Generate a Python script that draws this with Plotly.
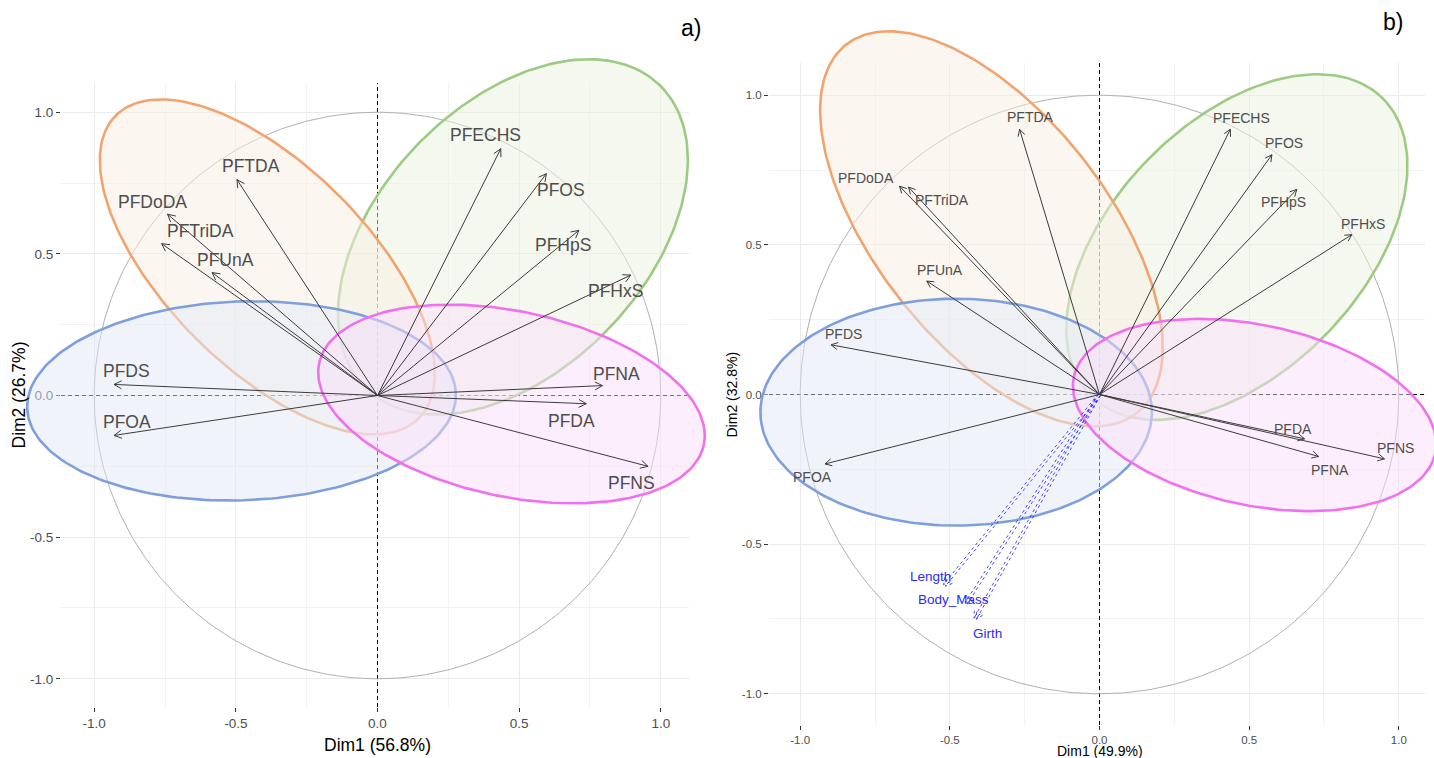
import numpy as np
import plotly.graph_objects as go

# ---------------- data ----------------
# Panel a: variable coordinates on Dim1 / Dim2
vars_a = ["PFTDA", "PFDoDA", "PFTriDA", "PFUnA", "PFDS", "PFOA", "PFECHS",
          "PFOS", "PFHpS", "PFHxS", "PFNA", "PFDA", "PFNS"]
dim1_a = [-0.496, -0.741, -0.762, -0.584, -0.930, -0.930, 0.435,
          0.596, 0.711, 0.894, 0.794, 0.737, 0.955]
dim2_a = [0.762, 0.640, 0.536, 0.434, 0.039, -0.141, 0.871,
          0.783, 0.583, 0.425, 0.035, -0.029, -0.250]

# Panel b: variable coordinates on Dim1 / Dim2
vars_b = ["PFTDA", "PFDoDA", "PFTriDA", "PFUnA", "PFDS", "PFOA", "PFECHS",
          "PFOS", "PFHpS", "PFHxS", "PFDA", "PFNA", "PFNS"]
dim1_b = [-0.267, -0.668, -0.638, -0.577, -0.897, -0.917, 0.437,
          0.576, 0.659, 0.843, 0.685, 0.732, 0.952]
dim2_b = [0.886, 0.696, 0.693, 0.379, 0.166, -0.232, 0.886,
          0.801, 0.685, 0.534, -0.148, -0.207, -0.215]

# Panel b: supplementary quantitative variables
sup_vars_b = ["Length", "Body_Mass", "Girth"]
sup_dim1_b = [-0.518, -0.445, -0.415]
sup_dim2_b = [-0.638, -0.697, -0.749]

# Group ellipses (drawing order: green, orange, blue, pink)
ell_names = ["green", "orange", "blue", "pink"]
ell_a_cx = [0.478, -0.389, -0.480, 0.473]
ell_a_cy = [0.560, 0.454, -0.019, -0.030]
ell_a_ra = [0.745, 0.756, 0.757, 0.694]
ell_a_rb = [0.4685, 0.357, 0.351, 0.327]
ell_a_ang = [46.0, -45.0, 2.0, -12.0]

ell_b_cx = [0.459, -0.361, -0.479, 0.518]
ell_b_cy = [0.4926, 0.5535, -0.059, -0.0686]
ell_b_ra = [0.696, 0.784, 0.654, 0.617]
ell_b_rb = [0.417, 0.3856, 0.379, 0.301]
ell_b_ang = [45.8, -51.7, 0.0, -12.0]

tick_vals = [-1.0, -0.5, 0.0, 0.5, 1.0]
tick_text = ["-1.0", "-0.5", "0.0", "0.5", "1.0"]

# ---------------- styling ----------------
W, H = 1434, 758
FONT = "Liberation Sans, Arial, sans-serif"
ELL_LINE = {"green": "#9DCB84", "orange": "#F2A470", "blue": "#7F9FDC", "pink": "#F170EE"}
ELL_FILL = {"green": "rgba(233,241,221,0.5)", "orange": "rgba(247,237,225,0.5)",
            "blue": "rgba(225,233,245,0.5)", "pink": "rgba(249,221,249,0.5)"}
ARROW_COL = "#3b3b3b"
LABEL_COL = "#4d4d4d"

# label offsets from arrow tips, in pixels (dx right, dy up)
nudge_a = {"PFTDA": (14, 14), "PFDoDA": (-15, 12), "PFTriDA": (39, 13), "PFUnA": (13, 13),
           "PFDS": (12, 13), "PFOA": (13, 13), "PFECHS": (-15, 14), "PFOS": (15, -16),
           "PFHpS": (-16, -15), "PFHxS": (-15, -16), "PFNA": (14, 12), "PFDA": (-15, -17),
           "PFNS": (-17, -17)}
nudge_b = {"PFTDA": (11, 12), "PFDoDA": (-34, 8), "PFTriDA": (33, -13), "PFUnA": (13, 11),
           "PFDS": (12, 11), "PFOA": (-13, -13), "PFECHS": (11, 11), "PFOS": (12, 12),
           "PFHpS": (-13, -13), "PFHxS": (11, 11), "PFDA": (-12, 10), "PFNA": (11, -14),
           "PFNS": (11, 11), "Length": (-14, 9), "Body_Mass": (-13, 4), "Girth": (12, -15)}

# panel geometry in page pixels: origin, px per unit, plotting box
panel_a = dict(ox=377.5, oy=395.5, s=283.3, box=(61, 688.5, 83, 707), wide=(0.0, 0.5))
panel_b = dict(ox=1099.5, oy=394.5, s=299.3, box=(769, 1425, 63, 725), wide=(0.5, 1.0))


def x_domain_range(p, x0px, x1px):
    return [x0px / W, x1px / W], [(x0px - p["ox"]) / p["s"], (x1px - p["ox"]) / p["s"]]


def y_domain_range(p, ytop, ybot):
    return [1 - ybot / H, 1 - ytop / H], [(p["oy"] - ybot) / p["s"], (p["oy"] - ytop) / p["s"]]


def ellipse(cx, cy, ra, rb, ang):
    t = np.linspace(0, 2 * np.pi, 240)
    th = np.deg2rad(ang)
    x = cx + ra * np.cos(th) * np.cos(t) - rb * np.sin(th) * np.sin(t)
    y = cy + ra * np.sin(th) * np.cos(t) + rb * np.cos(th) * np.sin(t)
    return x, y


def arrows(xs, ys, head, offset=0.0, spread=np.deg2rad(28)):
    px, py = [], []
    for x, y in zip(xs, ys):
        phi = np.arctan2(y, x)
        nx, ny = -np.sin(phi) * offset, np.cos(phi) * offset
        tx, ty = x + nx, y + ny
        px += [nx, tx, None]
        py += [ny, ty, None]
        px += [tx - head * np.cos(phi + spread), tx, tx - head * np.cos(phi - spread), None]
        py += [ty - head * np.sin(phi + spread), ty, ty - head * np.sin(phi - spread), None]
    return px, py


fig = go.Figure()
layout_axes = {}
annotations = []


def build_panel(p, vis_idx, wide_idx, names, d1, d2, ecx, ecy, era, erb, eang,
                nudge, lab_size, tick_size, title_size, xtitle, ytitle, xtitle_y, ytitle_x,
                head, sup=None):
    x0, x1, yt, yb = p["box"]
    xd, xr = x_domain_range(p, x0, x1)
    yd, yr = y_domain_range(p, yt, yb)
    wxd, wxr = x_domain_range(p, p["wide"][0] * W, p["wide"][1] * W)
    wyd, wyr = y_domain_range(p, 0, H)

    vx, vy = ("x" if vis_idx == 1 else f"x{vis_idx}"), ("y" if vis_idx == 1 else f"y{vis_idx}")
    cx_, cy_ = f"x{wide_idx}", f"y{wide_idx}"

    common = dict(tickmode="array", tickvals=tick_vals, ticktext=tick_text,
                  ticks="outside", ticklen=4, tickwidth=1, tickcolor="#333333",
                  tickfont=dict(family=FONT, size=tick_size, color="#4d4d4d"),
                  showgrid=True, gridcolor="#EBEBEB", gridwidth=1,
                  minor=dict(tickmode="linear", tick0=0, dtick=0.25, showgrid=True,
                             gridcolor="#F2F2F2", gridwidth=0.7),
                  zeroline=False, showline=False, fixedrange=True)
    layout_axes[f"xaxis{'' if vis_idx == 1 else vis_idx}"] = dict(
        domain=xd, range=xr, anchor=vy, **common)
    layout_axes[f"yaxis{'' if vis_idx == 1 else vis_idx}"] = dict(
        domain=yd, range=yr, anchor=vx, **common)
    layout_axes[f"xaxis{wide_idx}"] = dict(domain=wxd, range=wxr, anchor=cy_, visible=False, fixedrange=True)
    layout_axes[f"yaxis{wide_idx}"] = dict(domain=wyd, range=wyr, anchor=cx_, visible=False, fixedrange=True)

    # empty trace so the gridded frame (ticks, grid) is rendered
    fig.add_trace(go.Scatter(x=[], y=[], xaxis=vx, yaxis=vy, mode="lines",
                             hoverinfo="skip", showlegend=False))

    # dashed reference lines through the origin, spanning the plotting box
    fig.add_trace(go.Scatter(x=[xr[0], xr[1], None, 0, 0], y=[0, 0, None, yr[0], yr[1]],
                             mode="lines", xaxis=cx_, yaxis=cy_,
                             line=dict(color="#000000", width=1, dash="4px,3px"),
                             hoverinfo="skip", showlegend=False))

    # correlation circle
    t = np.linspace(0, 2 * np.pi, 361)
    fig.add_trace(go.Scatter(x=np.cos(t), y=np.sin(t), mode="lines", xaxis=cx_, yaxis=cy_,
                             line=dict(color="#B0B0B0", width=1), hoverinfo="skip", showlegend=False))

    # group ellipses
    for name, a, b, c, d, e in zip(ell_names, ecx, ecy, era, erb, eang):
        ex, ey = ellipse(a, b, c, d, e)
        fig.add_trace(go.Scatter(x=ex, y=ey, mode="lines", fill="toself",
                                 fillcolor=ELL_FILL[name], xaxis=cx_, yaxis=cy_,
                                 line=dict(color=ELL_LINE[name], width=2.6),
                                 hoverinfo="skip", showlegend=False))

    # variable arrows
    ax_, ay_ = arrows(d1, d2, head)
    fig.add_trace(go.Scatter(x=ax_, y=ay_, mode="lines", xaxis=cx_, yaxis=cy_,
                             line=dict(color=ARROW_COL, width=1), hoverinfo="skip", showlegend=False))
    for n, x, y in zip(names, d1, d2):
        dx, dy = nudge[n]
        annotations.append(dict(x=x, y=y, xref=cx_, yref=cy_, text=n, showarrow=False,
                                xshift=dx, yshift=dy, xanchor="center", yanchor="middle",
                                font=dict(family=FONT, size=lab_size, color=LABEL_COL)))

    # supplementary variables (dashed blue)
    if sup is not None:
        snames, s1, s2 = sup
        off = 1.3 / p["s"]
        for o in (-off, off):
            sx, sy = arrows(s1, s2, head, offset=o)
            fig.add_trace(go.Scatter(x=sx, y=sy, mode="lines", xaxis=cx_, yaxis=cy_,
                                     line=dict(color="rgba(40,40,255,0.85)", width=1, dash="3px,3px"),
                                     hoverinfo="skip", showlegend=False))
        for n, x, y in zip(snames, s1, s2):
            dx, dy = nudge[n]
            annotations.append(dict(x=x, y=y, xref=cx_, yref=cy_, text=n, showarrow=False,
                                    xshift=dx, yshift=dy, xanchor="center", yanchor="middle",
                                    font=dict(family=FONT, size=lab_size - 0.5, color="#2a2aff")))

    # axis titles
    annotations.append(dict(x=p["ox"] / W, y=1 - xtitle_y / H, xref="paper", yref="paper",
                            text=xtitle, showarrow=False, xanchor="center", yanchor="middle",
                            font=dict(family=FONT, size=title_size, color="#000000")))
    annotations.append(dict(x=ytitle_x / W, y=1 - p["oy"] / H, xref="paper", yref="paper",
                            text=ytitle, showarrow=False, textangle=-90,
                            xanchor="center", yanchor="middle",
                            font=dict(family=FONT, size=title_size, color="#000000")))


build_panel(panel_a, 1, 3, vars_a, dim1_a, dim2_a, ell_a_cx, ell_a_cy, ell_a_ra, ell_a_rb,
            ell_a_ang, nudge_a, 17.5, 13.5, 17.5, "Dim1 (56.8%)", "Dim2 (26.7%)", 745, 19,
            head=8.5 / panel_a["s"])
build_panel(panel_b, 2, 4, vars_b, dim1_b, dim2_b, ell_b_cx, ell_b_cy, ell_b_ra, ell_b_rb,
            ell_b_ang, nudge_b, 14, 11.5, 14, "Dim1 (49.9%)", "Dim2 (32.8%)", 751, 731,
            head=7.5 / panel_b["s"], sup=(sup_vars_b, sup_dim1_b, sup_dim2_b))

# panel letters
annotations.append(dict(x=691 / W, y=1 - 28 / H, xref="paper", yref="paper", text="a)",
                        showarrow=False, xanchor="center", yanchor="middle",
                        font=dict(family=FONT, size=23, color="#000000")))
annotations.append(dict(x=1393 / W, y=1 - 22 / H, xref="paper", yref="paper", text="b)",
                        showarrow=False, xanchor="center", yanchor="middle",
                        font=dict(family=FONT, size=23, color="#000000")))

fig.update_layout(width=W, height=H, autosize=False,
                  margin=dict(l=0, r=0, t=0, b=0),
                  paper_bgcolor="white", plot_bgcolor="rgba(0,0,0,0)",
                  showlegend=False, annotations=annotations,
                  **layout_axes)

fig.write_html("out.html")
